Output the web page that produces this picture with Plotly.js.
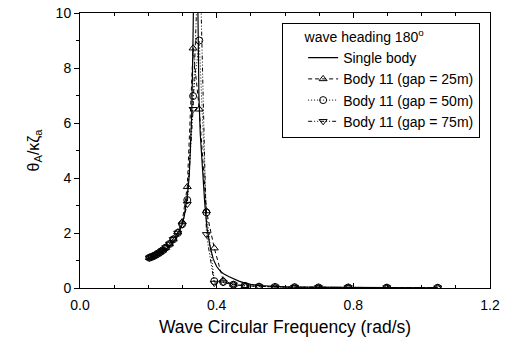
<!DOCTYPE html>
<html>
<head>
<meta charset="utf-8">
<script src="https://cdn.plot.ly/plotly-3.0.1.min.js"></script>
<style>html,body{margin:0;padding:0;background:#fff;}#chart{width:505px;height:341px;}</style>
</head>
<body>
<div id="chart"></div>
<script>
// Single body (fine frequency grid)
var omegaSingle = [0.200, 0.210, 0.220, 0.230, 0.240, 0.250, 0.260, 0.270, 0.280, 0.290, 0.300, 0.305, 0.310, 0.315, 0.320, 0.324, 0.327, 0.330, 0.333, 0.336, 0.339, 0.342, 0.345, 0.348, 0.352, 0.356, 0.360, 0.365, 0.372, 0.380, 0.390, 0.400, 0.410, 0.420, 0.435, 0.450, 0.465, 0.483, 0.500, 0.524, 0.550, 0.571, 0.600, 0.628, 0.698, 0.785, 0.898, 1.047];
var raoSingle = [1.08, 1.12, 1.17, 1.23, 1.31, 1.40, 1.50, 1.63, 1.80, 2.02, 2.35, 2.60, 2.95, 3.45, 4.15, 5.10, 6.30, 8.40, 11.8, 15.5, 16.5, 14.0, 10.2, 7.0, 5.6, 4.7, 3.9, 3.1, 2.15, 1.55, 1.05, 0.78, 0.62, 0.52, 0.42, 0.33, 0.25, 0.18, 0.13, 0.09, 0.065, 0.05, 0.04, 0.035, 0.025, 0.02, 0.015, 0.01];

// Multi-body (Body 11) frequency grid
var omegaBody = [0.203, 0.209, 0.217, 0.224, 0.233, 0.242, 0.251, 0.262, 0.273, 0.286, 0.299, 0.314, 0.331, 0.349, 0.370, 0.393, 0.419, 0.449, 0.483, 0.524, 0.571, 0.628, 0.698, 0.785, 0.898, 1.047];
var raoGap25 = [1.10, 1.13, 1.17, 1.22, 1.29, 1.37, 1.47, 1.60, 1.78, 2.03, 2.40, 3.68, 8.72, 6.50, 2.80, 1.45, 0.28, 0.13, 0.08, 0.05, 0.04, 0.03, 0.02, 0.02, 0.015, 0.01];
var raoGap50 = [1.10, 1.13, 1.17, 1.22, 1.29, 1.37, 1.47, 1.60, 1.77, 2.00, 2.32, 3.20, 6.98, 9.00, 2.75, 0.25, 0.22, 0.12, 0.08, 0.05, 0.04, 0.03, 0.02, 0.02, 0.015, 0.01];
var raoGap75 = [1.10, 1.13, 1.17, 1.22, 1.29, 1.37, 1.47, 1.60, 1.77, 2.00, 2.30, 3.05, 6.50, 13.0, 1.95, 0.18, 0.20, 0.12, 0.08, 0.05, 0.04, 0.03, 0.02, 0.02, 0.015, 0.01];

var seriesNames = ['Single body', 'Body 11 (gap = 25m)', 'Body 11 (gap = 50m)', 'Body 11 (gap = 75m)'];
var legendTitle = '\u00a0\u00a0\u00a0\u00a0\u00a0wave heading 180<sup>o</sup>';
var xTitle = 'Wave Circular Frequency (rad/s)';
var yTitle = '\u03B8<sub>A</sub>/\u03BA\u03B6<sub>a</sub>';

var FONT = 'Liberation Sans';
var mk = function (sym) { return {symbol: sym, size: 7, color: '#000', line: {color: '#000', width: 1}}; };

var traces = [
  {x: omegaSingle, y: raoSingle, name: seriesNames[0], mode: 'lines', line: {color: '#000', width: 1.2}},
  {x: omegaBody, y: raoGap25, name: seriesNames[1], mode: 'lines+markers', line: {color: '#000', width: 1, dash: '4px,3px'}, marker: mk('triangle-up-open')},
  {x: omegaBody, y: raoGap50, name: seriesNames[2], mode: 'lines+markers', line: {color: '#000', width: 1, dash: '1px,2px'}, marker: mk('circle-open')},
  {x: omegaBody, y: raoGap75, name: seriesNames[3], mode: 'lines+markers', line: {color: '#000', width: 1, dash: '4px,2px,1px,2px,1px,2px'}, marker: mk('triangle-down-open')}
];

var layout = {
  width: 505, height: 341,
  margin: {l: 80, r: 15, t: 13, b: 53},
  paper_bgcolor: '#fff', plot_bgcolor: '#fff',
  font: {family: FONT, color: '#000', size: 14},
  showlegend: true,
  legend: {
    x: 0.493, y: 0.964, xanchor: 'left', yanchor: 'top',
    bgcolor: '#fff', bordercolor: '#000', borderwidth: 1,
    indentation: 20,
    font: {family: FONT, size: 14, color: '#000'},
    title: {text: legendTitle, font: {family: FONT, size: 14, color: '#000'}}
  },
  xaxis: {
    range: [0, 1.2], dtick: 0.4, tick0: 0, tickformat: '.1f',
    showgrid: false, zeroline: false,
    showline: true, linecolor: '#000', linewidth: 1, mirror: 'ticks',
    ticks: 'inside', ticklen: 5, tickcolor: '#000',
    minor: {dtick: 0.1, ticks: 'inside', ticklen: 3, tickcolor: '#000', showgrid: false},
    tickfont: {family: FONT, size: 14},
    ticklabelstandoff: 4,
    title: {text: xTitle, font: {family: FONT, size: 17.5}, standoff: 8}
  },
  yaxis: {
    range: [0, 10], dtick: 2, tick0: 0,
    showgrid: false, zeroline: false,
    showline: true, linecolor: '#000', linewidth: 1, mirror: true,
    ticks: 'outside', ticklen: 5, tickcolor: '#000',
    minor: {dtick: 1, ticks: 'outside', ticklen: 3, tickcolor: '#000', showgrid: false},
    tickfont: {family: FONT, size: 14},
    title: {text: yTitle, font: {family: FONT, size: 16}, standoff: 12}
  },
  yaxis2: {
    overlaying: 'y', side: 'right', range: [0, 10], dtick: 2, tick0: 0,
    showgrid: false, zeroline: false, showticklabels: false,
    showline: true, linecolor: '#000', linewidth: 1,
    ticks: 'inside', ticklen: 5, tickcolor: '#000',
    minor: {dtick: 1, ticks: 'inside', ticklen: 3, tickcolor: '#000', showgrid: false}
  }
};

Plotly.newPlot('chart', traces, layout, {displayModeBar: false, staticPlot: true});
</script>
</body>
</html>
